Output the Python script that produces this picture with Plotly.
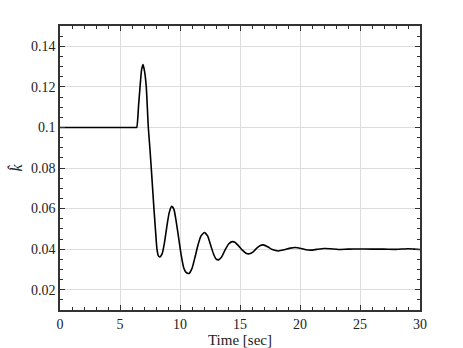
import plotly.graph_objects as go

t = [0, 3.0, 6.0, 6.25, 6.39, 6.55, 6.67, 6.8, 6.92, 7.05, 7.19, 7.36, 7.5, 7.65, 7.8, 7.95, 8.08,
     8.2, 8.33, 8.5, 8.7, 8.9, 9.1, 9.31, 9.5, 9.7, 9.9, 10.1, 10.3, 10.5, 10.75, 11.0, 11.25, 11.5,
     11.75, 12.03, 12.3, 12.55, 12.8, 13.0, 13.19, 13.45, 13.75, 14.05, 14.35, 14.6, 14.9, 15.2, 15.5,
     15.78, 16.1, 16.4, 16.7, 16.94, 17.3, 17.7, 18.2, 18.7, 19.2, 19.6, 20.1, 20.5, 20.9, 21.4, 22.0,
     22.5, 23.2, 24.0, 25.0, 26.0, 27.0, 28.0, 29.0, 29.5, 30.0]
k_hat = [0.1, 0.1, 0.1, 0.1, 0.1, 0.111, 0.12, 0.1285, 0.131, 0.1275, 0.12, 0.1, 0.089, 0.076, 0.0625,
         0.05, 0.040, 0.0367, 0.0362, 0.0375, 0.043, 0.051, 0.058, 0.0611, 0.0595, 0.053, 0.045,
         0.037, 0.031, 0.0285, 0.028, 0.0305, 0.036, 0.042, 0.0465, 0.0482, 0.0465, 0.042, 0.0375,
         0.0352, 0.0347, 0.036, 0.0395, 0.0425, 0.0437, 0.0433, 0.0415, 0.0395, 0.0380, 0.0377, 0.0387,
         0.0405, 0.0418, 0.0421, 0.0412, 0.0398, 0.0391, 0.0397, 0.0405, 0.0408, 0.0403, 0.0397, 0.0395,
         0.0399, 0.0403, 0.0402, 0.0398, 0.0400, 0.0401, 0.0400, 0.0400, 0.0399, 0.0402, 0.0400, 0.0398]

x_ticks = [0, 5, 10, 15, 20, 25, 30]
y_ticks = [0.02, 0.04, 0.06, 0.08, 0.1, 0.12, 0.14]
y_tick_text = ["0.02", "0.04", "0.06", "0.08", "0.1", "0.12", "0.14"]

FAM = "Liberation Serif"
font = dict(family=FAM, size=14, color="#222222")

fig = go.Figure()
fig.add_trace(go.Scatter(x=t, y=k_hat, mode="lines",
                         line=dict(color="black", width=1.6, shape="spline", smoothing=0.5),
                         showlegend=False))

axis_common = dict(showline=True, linecolor="#333333", linewidth=1.5, mirror="allticks",
                   ticks="inside", ticklen=5, tickwidth=1.2, tickcolor="#333333",
                   showgrid=True, gridcolor="#dcdcdc", gridwidth=1, zeroline=False,
                   tickfont=dict(family=FAM, size=14, color="#222222"), automargin=False)

fig.update_layout(
    template="none",
    width=463, height=348, margin=dict(l=60, r=43, t=26, b=38, autoexpand=False),
    plot_bgcolor="white", paper_bgcolor="white", font=font,
    xaxis=dict(range=[0, 30], tickvals=x_ticks, ticktext=[str(v) for v in x_ticks],
               minor=dict(dtick=1, tick0=0, ticks="inside", ticklen=3, tickcolor="#333333", showgrid=False),
               title=dict(text="Time [sec]", font=dict(family=FAM, size=15, color="#222222"), standoff=1),
               **axis_common),
    yaxis=dict(range=[0.01, 0.15], tickvals=y_ticks, ticktext=y_tick_text,
               minor=dict(dtick=0.005, tick0=0, ticks="inside", ticklen=3, tickcolor="#333333", showgrid=False),
               title=dict(text="<i>k̂</i>", font=dict(family=FAM, size=16, color="#222222"), standoff=4),
               **axis_common),
)

fig.write_html("out.html", config={"displayModeBar": False},
               post_script="document.body.style.margin='0';document.body.style.overflow='hidden';")
